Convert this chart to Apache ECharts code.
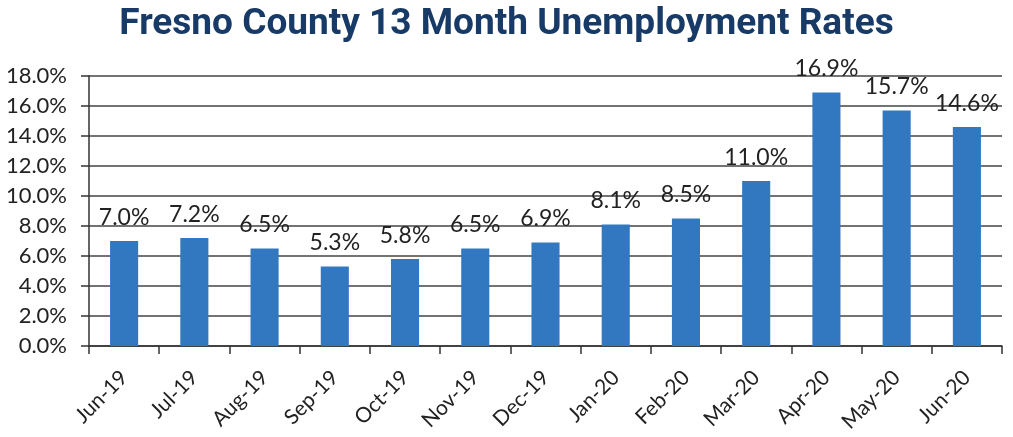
<!DOCTYPE html>
<html>
<head>
<meta charset="utf-8">
<script src="https://cdn.jsdelivr.net/npm/echarts@6/dist/echarts.min.js"></script>
<style>
  html, body { margin: 0; padding: 0; background: #fff; }
  #chart { width: 1013px; height: 437px; }
</style>
</head>
<body>
<div id="chart"></div>
<script>
const months = ['Jun-19', 'Jul-19', 'Aug-19', 'Sep-19', 'Oct-19', 'Nov-19', 'Dec-19',
  'Jan-20', 'Feb-20', 'Mar-20', 'Apr-20', 'May-20', 'Jun-20'];
const rates = [7.0, 7.2, 6.5, 5.3, 5.8, 6.5, 6.9, 8.1, 8.5, 11.0, 16.9, 15.7, 14.6];
const yMin = 0;
const yMax = 18;
const yStep = 2;

const myChart = echarts.init(document.getElementById('chart'));
myChart.setOption({
  animation: false,
  title: {
    text: 'Fresno County 13 Month Unemployment Rates',
    left: 'center',
    top: 1,
    textStyle: {
      fontFamily: 'Roboto, sans-serif',
      fontWeight: 'bold',
      fontSize: 37,
      color: '#173a66'
    }
  },
  grid: {
    left: 89,
    right: 11,
    top: 76,
    bottom: 91
  },
  xAxis: {
    type: 'category',
    data: months,
    axisLine: {show: true, lineStyle: {color: '#333', width: 1.5}},
    axisTick: {show: true, length: 8, lineStyle: {color: '#333', width: 1.5}},
    axisLabel: {
      rotate: 45,
      margin: 28,
      fontFamily: 'Lato, sans-serif',
      fontSize: 21,
      color: '#222'
    }
  },
  yAxis: {
    type: 'value',
    min: yMin,
    max: yMax,
    interval: yStep,
    axisLine: {show: true, lineStyle: {color: '#333', width: 1.5}},
    axisTick: {show: true, length: 8, lineStyle: {color: '#333', width: 1.5}},
    splitLine: {show: true, lineStyle: {color: '#444', width: 1.5}},
    axisLabel: {
      margin: 22,
      fontFamily: 'Lato, sans-serif',
      fontSize: 22,
      color: '#222',
      formatter: (v) => v.toFixed(1) + '%'
    }
  },
  series: [
    {
      type: 'bar',
      data: rates,
      barWidth: '40%',
      itemStyle: {color: '#3278c0'},
      label: {
        show: true,
        position: 'top',
        distance: 12,
        fontFamily: 'Lato, sans-serif',
        fontSize: 23,
        color: '#222',
        formatter: (p) => p.value.toFixed(1) + '%'
      }
    }
  ]
});
</script>
</body>
</html>
